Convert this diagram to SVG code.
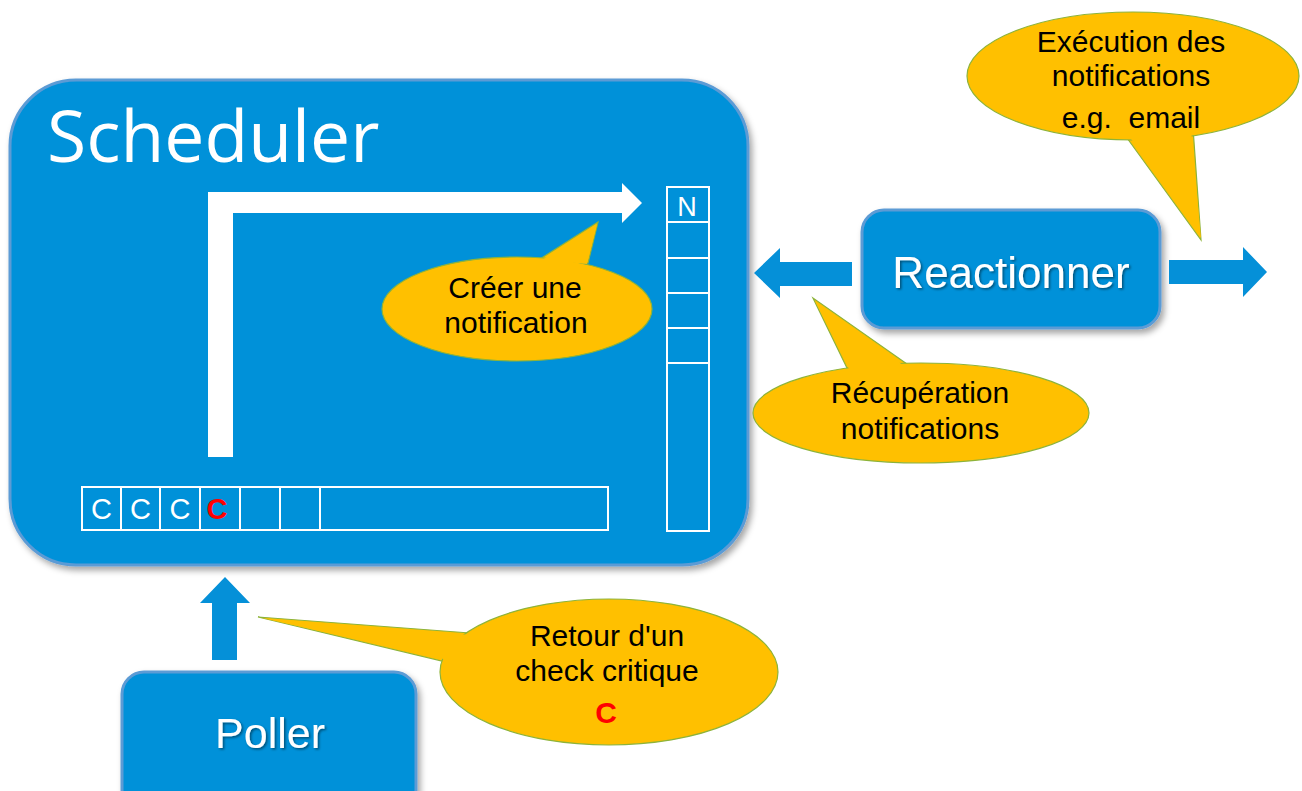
<svg xmlns="http://www.w3.org/2000/svg" width="1302" height="791" viewBox="0 0 1302 791">
<defs>
<filter id="sh" x="-10%" y="-10%" width="125%" height="130%">
<feDropShadow dx="3" dy="4" stdDeviation="3" flood-color="#000" flood-opacity="0.35"/>
</filter>
<filter id="tsh" x="-10%" y="-20%" width="120%" height="150%">
<feDropShadow dx="1.5" dy="1.5" stdDeviation="1" flood-color="#000" flood-opacity="0.45"/>
</filter>
<style>
.box{fill:#0391D9;stroke:#5B9BD5;stroke-width:3}
.cell{fill:none;stroke:#fff;stroke-width:2}
.arr{fill:#0590D8}
.bub{fill:#FFC000;stroke:#8DB33A;stroke-width:1.2}
.bubf{fill:#FFC000}
.bt{font-family:"Liberation Sans",Arial,sans-serif;font-size:30px;fill:#000;text-anchor:middle}
.wt{font-family:"Liberation Sans",Arial,sans-serif;fill:#fff;text-anchor:middle}
.red{font-family:"Liberation Sans",Arial,sans-serif;font-weight:bold;fill:#FF0000;text-anchor:middle}
</style>
</defs>
<rect width="1302" height="791" fill="#fff"/>

<g id="scheduler">
<rect class="box" x="10" y="80" width="738" height="485" rx="66" ry="66" filter="url(#sh)"/>
<text x="47" y="162" font-family="'Open Sans','Noto Sans',sans-serif" font-size="71.5" fill="#fff">Scheduler</text>
<g id="check-queue">
<rect class="cell" x="82" y="487" width="526" height="43"/>
<line class="cell" x1="121" y1="487" x2="121" y2="530"/>
<line class="cell" x1="160" y1="487" x2="160" y2="530"/>
<line class="cell" x1="200" y1="487" x2="200" y2="530"/>
<line class="cell" x1="240" y1="487" x2="240" y2="530"/>
<line class="cell" x1="280" y1="487" x2="280" y2="530"/>
<line class="cell" x1="320" y1="487" x2="320" y2="530"/>
<text class="wt" x="101.5" y="519" font-size="29">C</text>
<text class="wt" x="140.5" y="519" font-size="29">C</text>
<text class="wt" x="180" y="519" font-size="29">C</text>
<text class="red" x="217" y="519" font-size="29">C</text>
</g>
<g id="notification-queue">
<rect class="cell" x="667" y="187" width="42" height="344"/>
<line class="cell" x1="667" y1="222" x2="709" y2="222"/>
<line class="cell" x1="667" y1="258" x2="709" y2="258"/>
<line class="cell" x1="667" y1="293" x2="709" y2="293"/>
<line class="cell" x1="667" y1="328" x2="709" y2="328"/>
<line class="cell" x1="667" y1="363" x2="709" y2="363"/>
<text class="wt" x="687" y="216" font-size="27">N</text>
</g>
</g>

<g id="reactionner">
<rect class="box" x="862" y="210" width="298" height="118" rx="22" ry="22" filter="url(#sh)"/>
<text class="wt" x="1011" y="288" font-size="44" filter="url(#tsh)">Reactionner</text>
</g>

<g id="poller">
<rect class="box" x="122" y="672" width="294" height="140" rx="22" ry="22" filter="url(#sh)"/>
<text class="wt" x="270" y="748" font-size="43" filter="url(#tsh)">Poller</text>
</g>

<g id="connectors">
<polygon points="208,457 208,192 622,192 622,183 642,203 622,223 622,213 233,213 233,457" fill="#fff"/>
<polygon class="arr" points="852,262 780,262 780,248 754,273 780,298 780,286 852,286"/>
<polygon class="arr" points="1169,260 1243,260 1243,247 1267,272 1243,297 1243,284 1169,284"/>
<polygon class="arr" points="212,660 212,603 200,603 225,577 250,603 237,603 237,660"/>
</g>

<g id="callout-execution">
<polygon class="bub" points="1127,138 1201,240 1193,128"/>
<ellipse class="bub" cx="1133" cy="76" rx="166" ry="64"/>
<polygon class="bubf" points="1129,136 1201,238 1191,130"/>
<text class="bt" x="1131" y="52">Exécution des</text>
<text class="bt" x="1131" y="86">notifications</text>
<text class="bt" x="1131" y="128" font-size="32" xml:space="preserve">e.g.  email</text>
</g>

<g id="callout-creer">
<polygon class="bub" points="540,259 598,222 588,263"/>
<ellipse class="bub" cx="517" cy="309" rx="135" ry="52"/>
<polygon class="bubf" points="542,260 597,225 587,264"/>
<text class="bt" x="515" y="298">Créer une</text>
<text class="bt" x="516" y="333">notification</text>
</g>

<g id="callout-recuperation">
<polygon class="bub" points="847,368 813,298 907,364"/>
<ellipse class="bub" cx="921" cy="413" rx="168" ry="50"/>
<polygon class="bubf" points="849,369 815,301 904,366"/>
<text class="bt" x="920" y="403">Récupération</text>
<text class="bt" x="920" y="439">notifications</text>
</g>

<g id="callout-retour">
<polygon class="bub" points="470,633 258,617 446,662"/>
<ellipse class="bub" cx="609" cy="672" rx="169" ry="73"/>
<polygon class="bubf" points="471,635 262,618 448,660"/>
<text class="bt" x="607" y="646">Retour d'un</text>
<text class="bt" x="607" y="681">check critique</text>
<text class="red" x="606" y="723" font-size="30">C</text>
</g>
</svg>
